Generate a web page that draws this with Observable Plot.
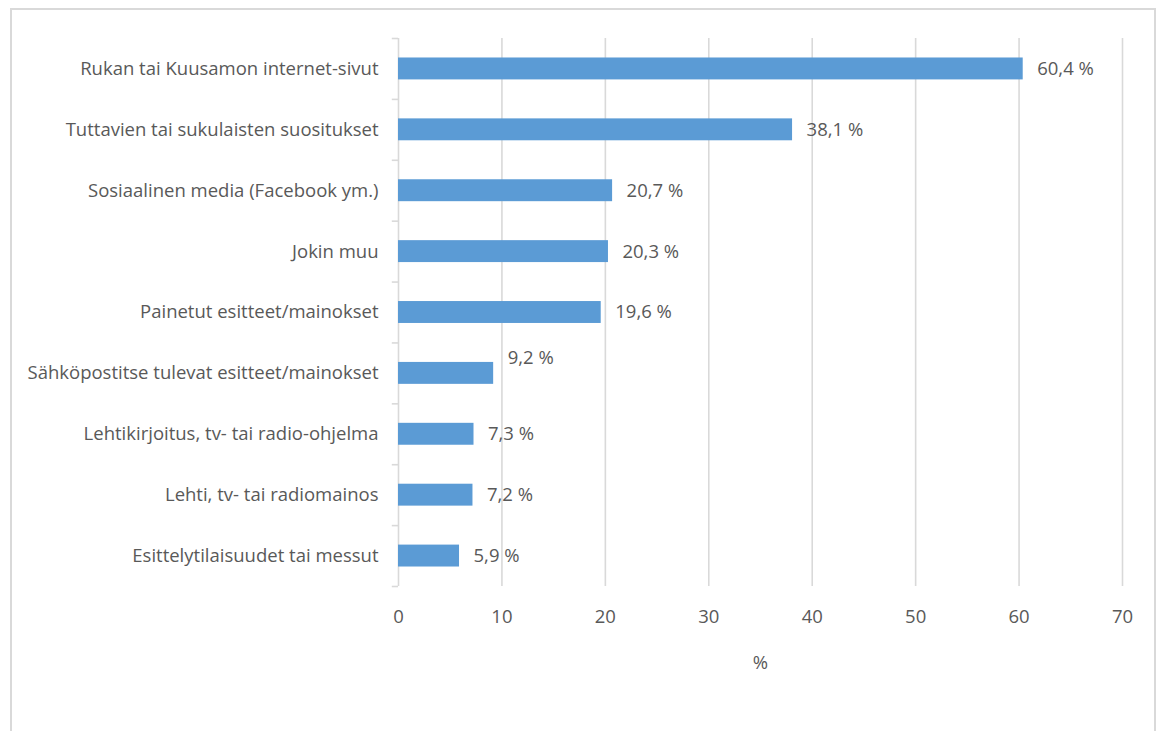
<!DOCTYPE html>
<html>
<head>
<meta charset="utf-8">
<script src="https://cdn.jsdelivr.net/npm/d3@7"></script>
<script src="https://cdn.jsdelivr.net/npm/@observablehq/plot@0.6"></script>
<style>
  html, body { margin: 0; padding: 0; background: #fff; overflow: hidden; }
  #frame { position: absolute; left: 10px; top: 8px; width: 1146px; height: 760px; border: 2px solid #d9d9d9; box-sizing: border-box; }
  #chart { position: absolute; left: 0; top: 0; }
</style>
</head>
<body>
<div id="frame"></div>
<div id="chart"></div>
<script>
const categories = [
  "Rukan tai Kuusamon internet-sivut",
  "Tuttavien tai sukulaisten suositukset",
  "Sosiaalinen media (Facebook ym.)",
  "Jokin muu",
  "Painetut esitteet/mainokset",
  "Sähköpostitse tulevat esitteet/mainokset",
  "Lehtikirjoitus, tv- tai radio-ohjelma",
  "Lehti, tv- tai radiomainos",
  "Esittelytilaisuudet tai messut"
];
const values = [60.4, 38.1, 20.7, 20.3, 19.6, 9.2, 7.3, 7.2, 5.9];
const valueLabels = ["60,4 %", "38,1 %", "20,7 %", "20,3 %", "19,6 %", "9,2 %", "7,3 %", "7,2 %", "5,9 %"];
const xTicks = [0, 10, 20, 30, 40, 50, 60, 70];
const raisedLabel = "Sähköpostitse tulevat esitteet/mainokset";

const data = categories.map((c, i) => ({cat: c, value: values[i], label: valueLabels[i]}));

const W = 1162, H = 731;
const mTop = 38, mBottom = 145, mLeft = 398, mRight = 40;
const step = (H - mTop - mBottom) / categories.length;
const font = "'Open Sans', sans-serif";
const textColor = "#595959";
const grid = "#d9d9d9";
const fs = 18.5;

const chart = Plot.plot({
  width: W,
  height: H,
  marginTop: mTop,
  marginBottom: mBottom,
  marginLeft: mLeft,
  marginRight: mRight,
  style: {fontFamily: font, fontSize: fs + "px", color: textColor, background: "transparent"},
  x: {domain: [0, 70], ticks: xTicks},
  y: {domain: categories, paddingInner: 0.64, paddingOuter: 0.32, round: false},
  marks: [
    Plot.ruleX(xTicks, {x: d => d, stroke: grid, strokeWidth: 1.6}),
    Plot.ruleY(categories, {y: d => d, x1: -0.6, x2: 0, dy: -step / 2, stroke: grid, strokeWidth: 1.6}),
    Plot.ruleY(categories.slice(-1), {y: d => d, x1: -0.6, x2: 0, dy: step / 2, stroke: grid, strokeWidth: 1.6}),
    Plot.barX(data, {y: "cat", x: "value", fill: "#5b9bd5"}),
    Plot.text(data.filter(d => d.cat !== raisedLabel), {y: "cat", x: "value", text: "label", textAnchor: "start", dx: 14, fill: textColor, fontSize: fs}),
    Plot.text(data.filter(d => d.cat === raisedLabel), {y: "cat", x: "value", text: "label", textAnchor: "start", dx: 14, dy: -15, fill: textColor, fontSize: fs}),
    Plot.axisY({tickSize: 0, tickPadding: 20, label: null, fontSize: fs, fill: textColor}),
    Plot.axisX({ticks: xTicks, tickSize: 0, tickPadding: 23, tickFormat: d => String(d), label: "%", labelAnchor: "center", labelArrow: "none", labelOffset: 82, fontSize: fs, fill: textColor})
  ]
});
document.getElementById("chart").appendChild(chart);
</script>
</body>
</html>
